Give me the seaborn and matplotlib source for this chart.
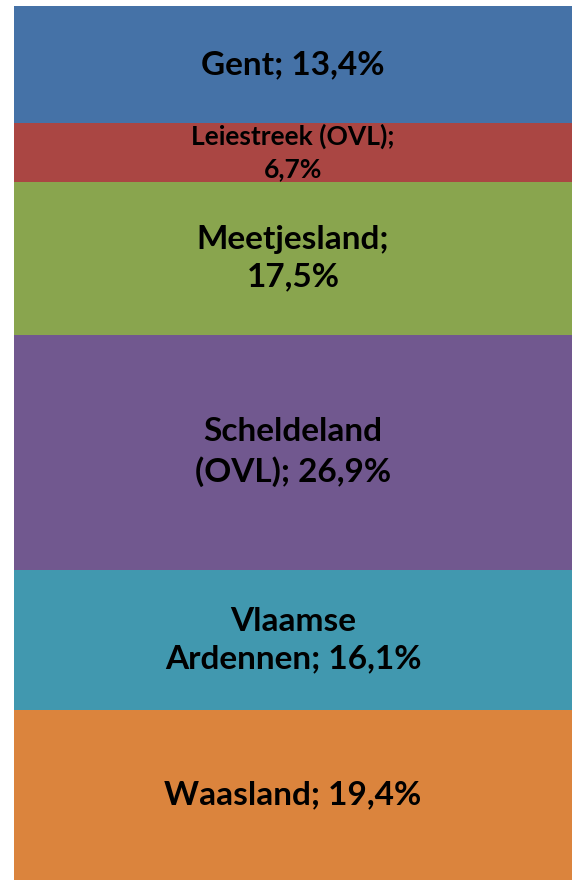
import matplotlib
matplotlib.use("Agg")
import matplotlib.pyplot as plt
import seaborn as sns
import numpy as np
import pandas as pd

regions = ["Gent", "Leiestreek (OVL)", "Meetjesland", "Scheldeland (OVL)", "Vlaamse Ardennen", "Waasland"]
shares = [13.4, 6.7, 17.5, 26.9, 16.1, 19.4]
labels = ["Gent; 13,4%", "Leiestreek (OVL);\n6,7%", "Meetjesland;\n17,5%",
          "Scheldeland\n(OVL); 26,9%", "Vlaamse\nArdennen; 16,1%", "Waasland; 19,4%"]
colors = ["#4572A7", "#AA4643", "#89A54E", "#71588F", "#4198AF", "#DB843D"]
label_sizes = [24, 19, 24, 24, 24, 24]

sns.set_theme(style="white")
plt.rcParams['font.family'] = ['Lato', 'DejaVu Sans']

fig = plt.figure(figsize=(5.72, 8.81), dpi=100)
ax = fig.add_axes([14/572, 1/881, 558/572, 874/881])

# stacked from bottom: last region at bottom
tops = np.cumsum(shares[::-1])[::-1]  # top of each segment (Gent=100)
bottoms = tops - np.array(shares)

for reg, top, col in zip(regions, tops, colors):
    df = pd.DataFrame({"x": ["all"], "v": [top]})
    sns.barplot(data=df, x="x", y="v", color=col, width=1.0, ax=ax,
                saturation=1, linewidth=0, errorbar=None)

for lab, top, bot, fs in zip(labels, tops, bottoms, label_sizes):
    ax.text(0, (top + bot) / 2, lab, ha="center", va="center", fontsize=fs,
            fontweight="bold", color="black", linespacing=1.38)

ax.set_xlim(-0.5, 0.5)
ax.set_ylim(0, 100)
ax.axis("off")
fig.savefig("out.png", dpi=100)
